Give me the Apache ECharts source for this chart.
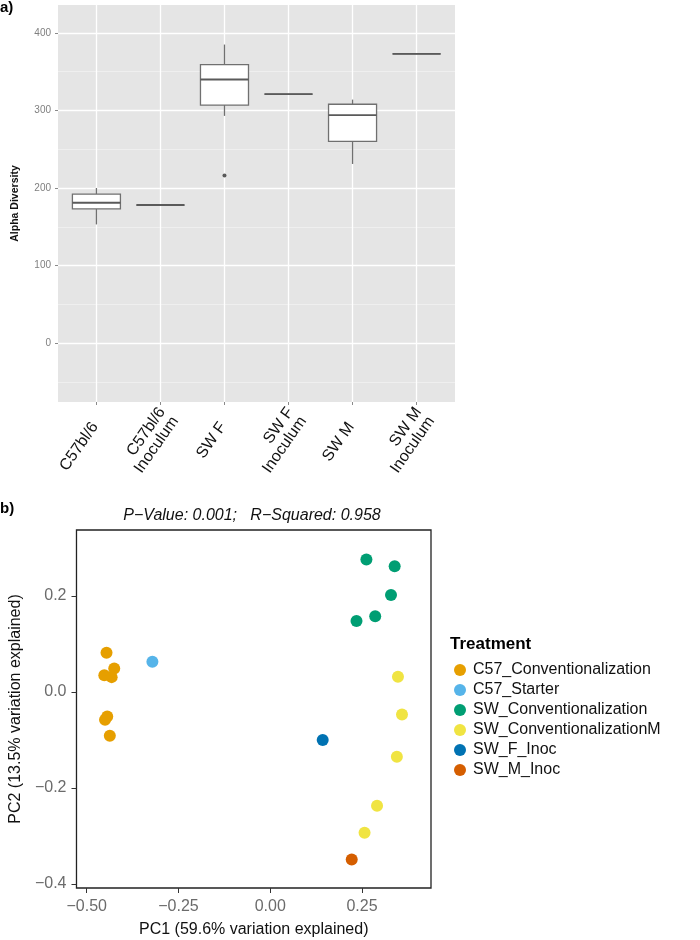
<!DOCTYPE html>
<html>
<head>
<meta charset="utf-8">
<script src="https://cdn.jsdelivr.net/npm/echarts@6/dist/echarts.min.js"></script>
<style>html,body{margin:0;padding:0;background:#fff}#c{width:700px;height:940px}</style>
</head>
<body>
<div id="c"></div>
<script>
// ---- Panel a) alpha diversity boxplots ----
var categories = ['C57bl/6', 'C57bl/6\nInoculum', 'SW F', 'SW F\nInoculum', 'SW M', 'SW M\nInoculum'];
var whiskerLow  = [153, 178, 293, 321, 231, 373];
var q1          = [173, 178, 307, 321, 260, 373];
var median      = [181, 178, 340, 321, 294, 373];
var q3          = [192, 178, 359, 321, 308, 373];
var whiskerHigh = [200, 178, 385, 321, 314, 373];
var outliers    = [[2, 216]];
var alphaTicks  = [0, 100, 200, 300, 400];
var alphaMinor  = [-50, 50, 150, 250, 350];
var catTicks    = [0, 1, 2, 3, 4, 5];

// ---- Panel b) PCoA ----
var treatments = ['C57_Conventionalization', 'C57_Starter', 'SW_Conventionalization', 'SW_ConventionalizationM', 'SW_F_Inoc', 'SW_M_Inoc'];
var c57Conventionalization = [[-0.446, 0.082], [-0.425, 0.049], [-0.452, 0.035], [-0.432, 0.031], [-0.444, -0.051], [-0.450, -0.058], [-0.437, -0.091]];
var c57Starter = [[-0.321, 0.063]];
var swConventionalization = [[0.262, 0.276], [0.339, 0.262], [0.329, 0.202], [0.286, 0.158], [0.235, 0.148]];
var swConventionalizationM = [[0.348, 0.032], [0.359, -0.047], [0.345, -0.135], [0.291, -0.237], [0.257, -0.293]];
var swFInoc = [[0.143, -0.100]];
var swMInoc = [[0.222, -0.349]];
var pc1Ticks = [-0.5, -0.25, 0, 0.25];
var pc2Ticks = [-0.4, -0.2, 0, 0.2];
var colors = ['#E69F00', '#56B4E9', '#009E73', '#F0E442', '#0072B2', '#D55E00'];

var FONT = 'Liberation Sans, Arial, Helvetica, sans-serif';
function fmtNum(v, d) { var s = Math.abs(v).toFixed(d); return (v < -1e-9 ? '\u2212' : '') + s; }

var boxData = categories.map(function (c, i) {
  return [i, whiskerLow[i], q1[i], median[i], q3[i], whiskerHigh[i]];
});

function renderBox(params, api) {
  var x = api.value(0);
  var lo = api.coord([x, api.value(1)]);
  var b1 = api.coord([x, api.value(2)]);
  var md = api.coord([x, api.value(3)]);
  var b3 = api.coord([x, api.value(4)]);
  var hi = api.coord([x, api.value(5)]);
  var hw = api.size([0.75, 0])[0] / 2;
  var stroke = '#707070';
  return {
    type: 'group',
    children: [
      { type: 'line', shape: { x1: hi[0], y1: hi[1], x2: b3[0], y2: b3[1] }, style: { stroke: stroke, lineWidth: 1.3 } },
      { type: 'line', shape: { x1: b1[0], y1: b1[1], x2: lo[0], y2: lo[1] }, style: { stroke: stroke, lineWidth: 1.3 } },
      { type: 'rect', shape: { x: b3[0] - hw, y: b3[1], width: hw * 2, height: b1[1] - b3[1] }, style: { fill: '#ffffff', stroke: stroke, lineWidth: 1.3 } },
      { type: 'line', shape: { x1: md[0] - hw, y1: md[1], x2: md[0] + hw, y2: md[1] }, style: { stroke: '#5a5a5a', lineWidth: 1.9 } }
    ]
  };
}

var chart = echarts.init(document.getElementById('c'), null, { renderer: 'canvas' });

var scatterSets = [c57Conventionalization, c57Starter, swConventionalization, swConventionalizationM, swFInoc, swMInoc];
var scatterSeries = scatterSets.map(function (d, i) {
  return {
    name: treatments[i], type: 'scatter', xAxisIndex: 1, yAxisIndex: 2,
    data: d, symbol: 'circle', symbolSize: 12,
    itemStyle: { color: colors[i], opacity: 1 }, z: 5
  };
});

var option = {
  animation: false,
  textStyle: { fontFamily: FONT },
  grid: [
    { left: 58, top: 5, width: 397, height: 397, show: true, backgroundColor: '#E5E5E5', borderWidth: 0 },
    { left: 73, top: 530, width: 358, height: 358, show: true, backgroundColor: '#ffffff', borderColor: '#222', borderWidth: 1.3 }
  ],
  xAxis: [
    {
      gridIndex: 0, type: 'value', min: -0.6, max: 5.6, minInterval: 1, maxInterval: 1,
      axisLine: { show: false, onZero: false },
      axisTick: { show: true, length: 3, customValues: catTicks, lineStyle: { color: '#8a8a8a' } },
      axisLabel: {
        customValues: catTicks, rotate: 55, fontSize: 16, color: '#111', margin: 6, lineHeight: 16,
        fontFamily: FONT,
        rich: {
          g: { fontSize: 1, lineHeight: 16 },
          g2: { fontSize: 1, lineHeight: 20 },
          t: { fontSize: 16, lineHeight: 16, color: '#111', fontFamily: FONT, padding: [0, 14, 0, 0] }
        },
        formatter: function (v) {
          var s = categories[Math.round(v)] || '';
          return s.indexOf('\n') < 0 ? '{g| }\n{t|' + s + '}' : '{g2| }\n' + s;
        }
      },
      splitLine: { show: true, lineStyle: { color: '#ffffff', width: 1.3 } }
    },
    {
      gridIndex: 1, type: 'value', min: -0.5278, max: 0.438, minInterval: 0.25, maxInterval: 0.25,
      axisLine: { show: false, onZero: false },
      axisTick: { show: true, length: 5, customValues: pc1Ticks, lineStyle: { color: '#333' } },
      axisLabel: { customValues: pc1Ticks, fontSize: 16, color: '#6b6b6b', margin: 11, fontFamily: FONT,
        formatter: function (v) { return fmtNum(v, 2); } },
      splitLine: { show: false },
      name: 'PC1 (59.6% variation explained)', nameLocation: 'middle', nameGap: 34,
      nameTextStyle: { fontSize: 16, color: '#111', fontFamily: FONT }
    }
  ],
  yAxis: [
    {
      gridIndex: 0, type: 'value', min: -76, max: 436, minInterval: 100, maxInterval: 100,
      axisLine: { show: false, onZero: false },
      axisTick: { show: true, length: 3, customValues: alphaTicks, lineStyle: { color: '#8a8a8a' } },
      axisLabel: { customValues: alphaTicks, fontSize: 10, color: '#7f7f7f', margin: 7, fontFamily: FONT },
      splitLine: { show: true, lineStyle: { color: '#ffffff', width: 1.3 } },
      name: 'Alpha Diversity', nameLocation: 'middle', nameGap: 37,
      nameTextStyle: { fontSize: 10.5, fontWeight: 'bold', color: '#111', fontFamily: FONT }
    },
    {
      gridIndex: 0, type: 'value', min: -76, max: 436, minInterval: 50, maxInterval: 50, position: 'left',
      axisLine: { show: false, onZero: false }, axisTick: { show: false, customValues: alphaMinor }, axisLabel: { show: false },
      splitLine: { show: true, lineStyle: { color: '#F4F4F4', width: 0.7 } }
    },
    {
      gridIndex: 1, type: 'value', min: -0.4083, max: 0.3375, minInterval: 0.2, maxInterval: 0.2,
      axisLine: { show: false, onZero: false },
      axisTick: { show: true, length: 5, customValues: pc2Ticks, lineStyle: { color: '#333' } },
      axisLabel: { customValues: pc2Ticks, fontSize: 16, color: '#6b6b6b', margin: 10, fontFamily: FONT,
        formatter: function (v) { return fmtNum(v, 1); } },
      splitLine: { show: false },
      name: 'PC2 (13.5% variation explained)', nameLocation: 'middle', nameGap: 52,
      nameTextStyle: { fontSize: 16, color: '#111', fontFamily: FONT }
    }
  ],
  legend: {
    data: treatments, orient: 'vertical', left: 449, top: 657,
    icon: 'circle', itemWidth: 16, itemHeight: 12, itemGap: 4,
    textStyle: { fontSize: 16, color: '#111', fontFamily: FONT, lineHeight: 16 },
    selectedMode: false
  },
  graphic: [
    { type: 'text', left: 0, top: 0, style: { text: 'a)', font: 'bold 15px ' + FONT, fill: '#000' } },
    { type: 'text', left: 0, top: 501, style: { text: 'b)', font: 'bold 15px ' + FONT, fill: '#000' } },
    { type: 'text', x: 252, y: 516, style: { text: 'P\u2212Value: 0.001;   R\u2212Squared: 0.958', font: 'italic 16px ' + FONT, fill: '#111', align: 'center', verticalAlign: 'middle' } },
    { type: 'text', x: 450, y: 644, style: { text: 'Treatment', font: 'bold 17px ' + FONT, fill: '#000', align: 'left', verticalAlign: 'middle' } }
  ],
  series: [
    {
      type: 'custom', xAxisIndex: 0, yAxisIndex: 0, data: boxData,
      renderItem: renderBox, encode: { x: 0, y: [1, 2, 3, 4, 5] }, z: 3
    },
    {
      type: 'scatter', xAxisIndex: 0, yAxisIndex: 0, data: outliers,
      symbolSize: 4, itemStyle: { color: '#333' }, z: 4
    }
  ].concat(scatterSeries)
};
chart.setOption(option);
</script>
</body>
</html>
